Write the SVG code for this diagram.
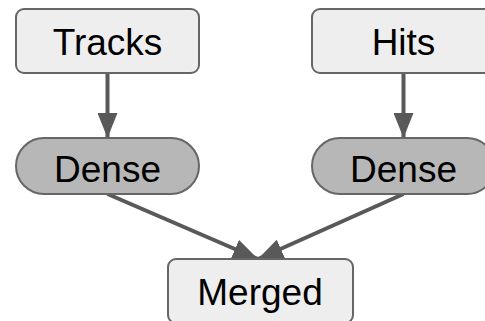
<svg xmlns="http://www.w3.org/2000/svg" width="485" height="321" viewBox="0 0 485 321">
  <style>
    .box { fill: #eeeeee; stroke: #666666; stroke-width: 2; }
    .pill { fill: #b7b7b7; stroke: #666666; stroke-width: 2; }
    .label { font-family: "Liberation Sans", Arial, sans-serif; font-size: 37px; fill: #000000; text-anchor: middle; }
    .edge { stroke: #595959; stroke-width: 4; fill: none; marker-end: url(#arrow); }
  </style>
  <defs>
    <marker id="arrow" markerUnits="userSpaceOnUse" markerWidth="26" markerHeight="20" refX="25" refY="10" orient="auto">
      <path d="M0,0 L25,10 L0,20 Z" fill="#595959"/>
    </marker>
  </defs>
  <rect width="485" height="321" fill="#ffffff"/>

  <g id="connectors">
    <line class="edge" x1="107.5" y1="73" x2="107.5" y2="138"/>
    <line class="edge" x1="403.5" y1="73" x2="403.5" y2="138"/>
    <line class="edge" x1="107.5" y1="194" x2="258" y2="259"/>
    <line class="edge" x1="403.5" y1="194" x2="258" y2="259"/>
  </g>

  <g id="tracks">
    <rect class="box" x="16" y="9" width="183" height="64" rx="8"/>
    <text class="label" x="107.5" y="55">Tracks</text>
  </g>
  <g id="hits">
    <rect class="box" x="312" y="9" width="183" height="64" rx="8"/>
    <text class="label" x="403.5" y="55">Hits</text>
  </g>
  <g id="dense-tracks">
    <rect class="pill" x="16" y="138" width="183" height="56" rx="28"/>
    <text class="label" x="107.5" y="182">Dense</text>
  </g>
  <g id="dense-hits">
    <rect class="pill" x="312" y="138" width="183" height="56" rx="28"/>
    <text class="label" x="403.5" y="182">Dense</text>
  </g>
  <g id="merged">
    <rect class="box" x="168" y="259" width="185" height="64" rx="8"/>
    <text class="label" x="260" y="305">Merged</text>
  </g>
</svg>
